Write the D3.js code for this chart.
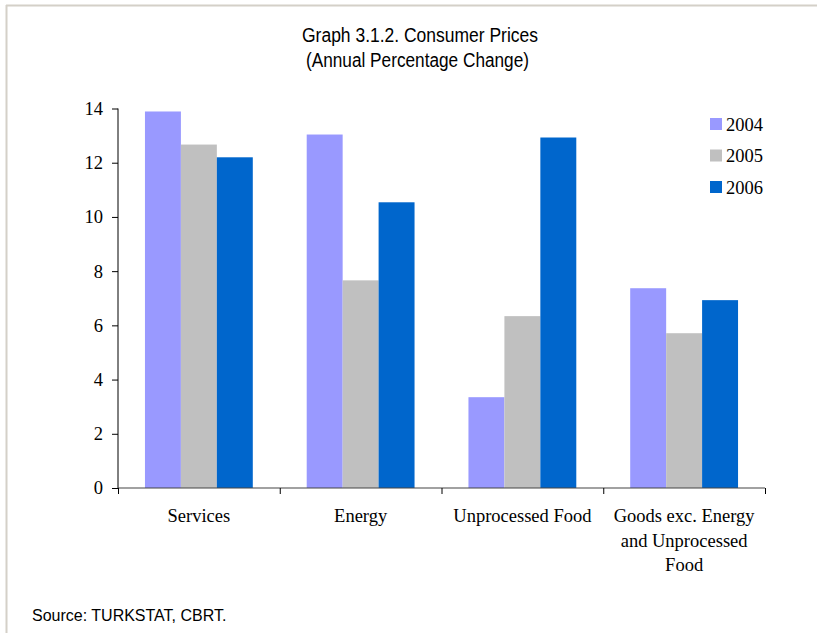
<!DOCTYPE html>
<html><head><meta charset="utf-8">
<script src="https://cdn.jsdelivr.net/npm/d3@7"></script>
<style>
body{margin:0;background:#fff;}
svg{display:block;}
</style></head>
<body>
<svg id="chart" width="817" height="633"></svg>
<script>
const categories = [["Services"], ["Energy"], ["Unprocessed Food"], ["Goods exc. Energy", "and Unprocessed", "Food"]];
const seriesNames = ["2004", "2005", "2006"];
const values2004 = [13.89, 13.04, 3.35, 7.37];
const values2005 = [12.67, 7.66, 6.34, 5.71];
const values2006 = [12.2, 10.54, 12.93, 6.93];
const yTicks = [0, 2, 4, 6, 8, 10, 12, 14];
const colors = ["#9999FF", "#C0C0C0", "#0066CC"];

(function(){
const seriesValues = [values2004, values2005, values2006];
const svg = d3.select("#chart");
const narrow = "'Liberation Sans Narrow','Arial Narrow','Liberation Sans',Arial,sans-serif";
const serif = "'Liberation Serif','Times New Roman',serif";
const fs = 18.5;

// frame
svg.append("line").attr("x1",6).attr("x2",817).attr("y1",5.5).attr("y2",5.5).attr("stroke","#d4d0c8").attr("stroke-width",2);
svg.append("line").attr("x1",6.5).attr("x2",6.5).attr("y1",5).attr("y2",633).attr("stroke","#d4d0c8").attr("stroke-width",2);

const pLeft = 118, pRight = 765, pTop = 108.5, pBottom = 488;
const x0 = d3.scaleBand().domain(d3.range(categories.length)).range([pLeft, pRight]).paddingInner(0).paddingOuter(0);
const x1 = d3.scaleBand().domain(d3.range(seriesNames.length)).range([0, x0.bandwidth()]).paddingOuter(0.75).paddingInner(0);
const y = d3.scaleLinear().domain([0, 14]).range([pBottom, pTop]);

// title
svg.append("text").attr("x",420).attr("y",42).attr("text-anchor","middle").style("font-family",narrow).style("font-size","19.5px").attr("fill","#000")
  .attr("textLength",236).attr("lengthAdjust","spacingAndGlyphs").text("Graph 3.1.2. Consumer Prices");
svg.append("text").attr("x",417.5).attr("y",67).attr("text-anchor","middle").style("font-family",narrow).style("font-size","19.5px").attr("fill","#000")
  .attr("textLength",223).attr("lengthAdjust","spacingAndGlyphs").text("(Annual Percentage Change)");

// bars
const g = svg.append("g");
categories.forEach((c, i) => {
  seriesValues.forEach((vals, s) => {
    g.append("rect")
      .attr("x", x0(i) + x1(s))
      .attr("y", y(vals[i]))
      .attr("width", x1.bandwidth())
      .attr("height", y(0) - y(vals[i]))
      .attr("fill", colors[s]);
  });
});

// y axis
const yAxis = d3.axisLeft(y).tickValues(yTicks).tickSize(6).tickPadding(9).tickFormat(d3.format("d"));
const ya = svg.append("g").attr("transform", `translate(${pLeft},0)`).call(yAxis);
ya.attr("font-family", null).attr("font-size", null);
ya.select(".domain").attr("stroke","#000").attr("d", `M0,${pTop}V${pBottom}`);
ya.selectAll(".tick line").attr("stroke","#000");
ya.selectAll(".tick text").style("font-family",serif).style("font-size",fs+"px").attr("fill","#000");

// x axis
const xs = d3.scaleLinear().domain([0, categories.length]).range([pLeft, pRight]);
const xAxis = d3.axisBottom(xs).tickValues(d3.range(categories.length + 1)).tickSize(6).tickFormat("");
const xa = svg.append("g").attr("transform", `translate(0,${pBottom})`).call(xAxis);
xa.select(".domain").attr("stroke","#444").attr("stroke-width",1.2).attr("d", `M${pLeft},0H${pRight}`);
xa.selectAll(".tick line").attr("stroke","#000");

// category labels
categories.forEach((lines, i) => {
  const t = svg.append("text").attr("text-anchor","middle").style("font-family",serif).style("font-size",fs+"px").attr("fill","#000");
  lines.forEach((ln, k) => {
    t.append("tspan").attr("x", x0(i) + x0.bandwidth()/2).attr("y", 522 + k*24.5).text(ln);
  });
});

// legend
seriesNames.forEach((n, s) => {
  const ly = 124 + s*31.5;
  svg.append("rect").attr("x",710).attr("y",ly-6).attr("width",12).attr("height",12).attr("fill",colors[s]);
  svg.append("text").attr("x",726).attr("y",ly+6.5).style("font-family",serif).style("font-size",fs+"px").attr("fill","#000").text(n);
});

// source
svg.append("text").attr("x",32).attr("y",621).style("font-family",narrow).style("font-size","16px").attr("fill","#000").text("Source: TURKSTAT, CBRT.");
})();
</script>
</body></html>
